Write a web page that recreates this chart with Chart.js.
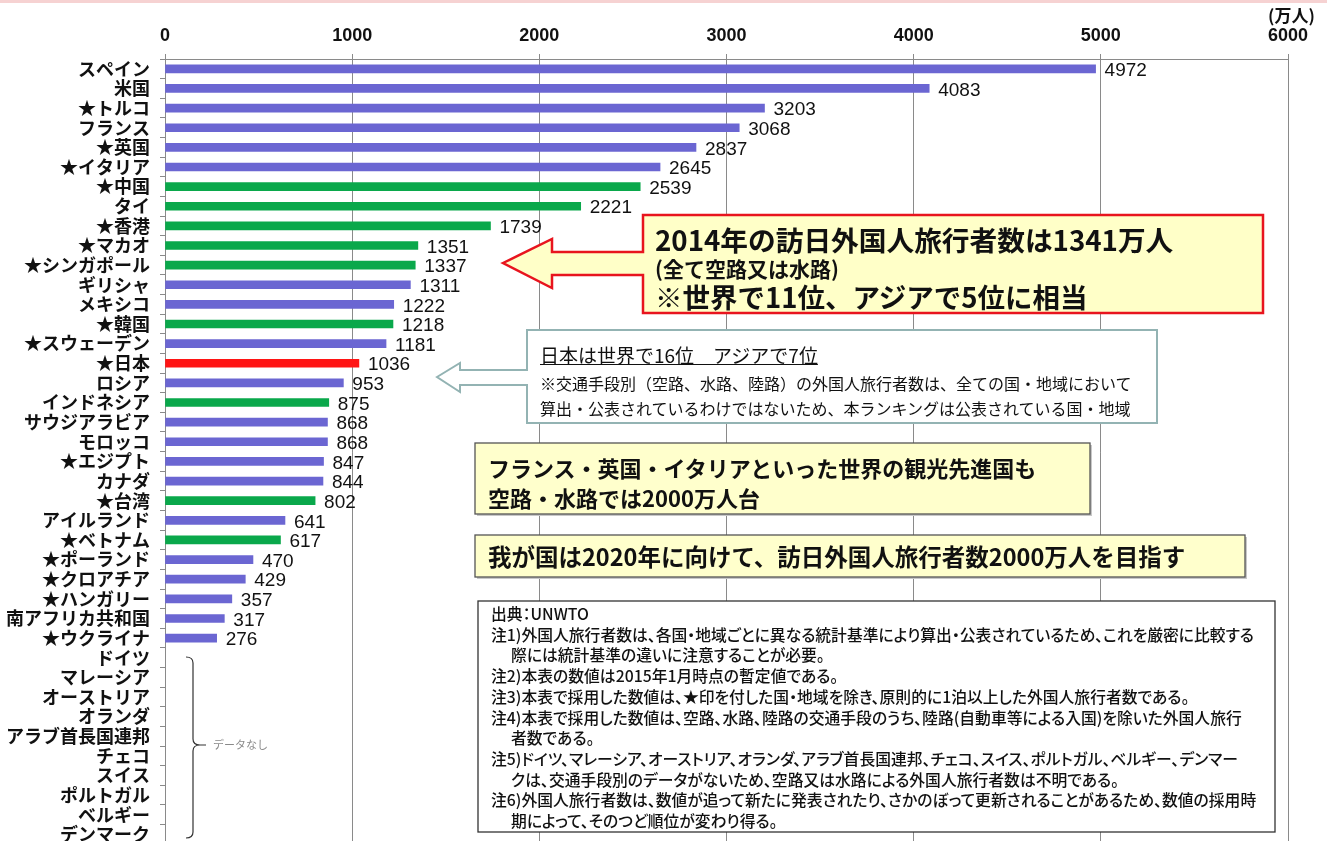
<!DOCTYPE html>
<html>
<head>
<meta charset="utf-8">
<script src="https://cdn.jsdelivr.net/npm/chart.js@4.4.0/dist/chart.umd.min.js"></script>
<style>
  html, body { margin: 0; padding: 0; background: #fff; overflow: hidden; }
  #wrap { position: relative; width: 1327px; height: 841px; overflow: hidden; }
  #topline { position: absolute; left: 0; top: 0; width: 1327px; height: 3px; background: #f6d2d2; }
  canvas { position: absolute; left: 0; top: 0; }
  svg { position: absolute; left: 0; top: 0; }
  .t { position: absolute; white-space: nowrap; font-family: "Noto Sans CJK JP", sans-serif; color: #111; }
  .p { font-feature-settings: "palt"; }
</style>
</head>
<body>
<div id="wrap">
  <div id="topline"></div>
  <canvas id="visitor_chart" width="1327" height="865"></canvas>
  <svg width="1327" height="841">
    <!-- 2014 box with arrow -->
    <polygon points="503,263 552,239 552,252 643,252 643,215 1263,215 1263,313 643,313 643,275 552,275 552,288"
             fill="#ffffc8" stroke="#e8141e" stroke-width="2.5" stroke-linejoin="miter"/>
    <!-- Japan rank box with arrow -->
    <polygon points="437,377 460,363 460,370 527,370 527,330 1157,330 1157,423 527,423 527,385 460,385 460,392"
             fill="#ffffff" stroke="#93b3b3" stroke-width="2"/>
    <rect x="477" y="445" width="615" height="71" fill="#c8c8c8"/>
    <rect x="475" y="443" width="615" height="71" fill="#ffffcc" stroke="#555" stroke-width="1.3"/>
    <rect x="477" y="537" width="770" height="42" fill="#c8c8c8"/>
    <rect x="475" y="535" width="770" height="42" fill="#ffffcc" stroke="#555" stroke-width="1.3"/>
    <rect x="478" y="601" width="797" height="231" fill="#ffffff" stroke="#333" stroke-width="1.3"/>
    <!-- no-data bracket -->
    <path d="M186,657 Q193,657 193,663 L193,739 Q193,745 200,745 L206,745 M200,745 Q193,745 193,751 L193,832 Q193,838 186,838"
          fill="none" stroke="#333" stroke-width="1.2"/>
  </svg>
</div>
<script>
// 国・地域 (★印は1泊以上の旅行者数ではない国・地域)
const countries = [
    'スペイン', '米国', '★トルコ', 'フランス', '★英国', '★イタリア', '★中国', 'タイ',
    '★香港', '★マカオ', '★シンガポール', 'ギリシャ', 'メキシコ', '★韓国', '★スウェーデン',
    '★日本', 'ロシア', 'インドネシア', 'サウジアラビア', 'モロッコ', '★エジプト', 'カナダ',
    '★台湾', 'アイルランド', '★ベトナム', '★ポーランド', '★クロアチア', '★ハンガリー',
    '南アフリカ共和国', '★ウクライナ',
    'ドイツ', 'マレーシア', 'オーストリア', 'オランダ', 'アラブ首長国連邦', 'チェコ',
    'スイス', 'ポルトガル', 'ベルギー', 'デンマーク'
];

// 空路・水路による外国人旅行者数 (万人), null = データなし
const visitors = [
    4972, 4083, 3203, 3068, 2837, 2645, 2539, 2221,
    1739, 1351, 1337, 1311, 1222, 1218, 1181,
    1036, 953, 875, 868, 868, 847, 844,
    802, 641, 617, 470, 429, 357,
    317, 276,
    null, null, null, null, null, null,
    null, null, null, null
];

// 地域区分 (色分け用)
const regions = [
    'world', 'world', 'world', 'world', 'world', 'world', 'asia', 'asia',
    'asia', 'asia', 'asia', 'world', 'world', 'asia', 'world',
    'japan', 'world', 'asia', 'world', 'world', 'world', 'world',
    'asia', 'world', 'asia', 'world', 'world', 'world',
    'world', 'world',
    'world', 'world', 'world', 'world', 'world', 'world',
    'world', 'world', 'world', 'world'
];

const xTicks = [0, 1000, 2000, 3000, 4000, 5000, 6000];

const regionColors = { world: '#6b66d2', asia: '#0aa84b', japan: '#ff1414' };

// 棒の右に数値を描く
const valueLabels = {
    id: 'valueLabels',
    afterDatasetsDraw(chart) {
        const ctx = chart.ctx;
        const meta = chart.getDatasetMeta(0);
        ctx.save();
        ctx.font = '19px "Liberation Sans", Arial, sans-serif';
        ctx.fillStyle = '#111';
        ctx.textBaseline = 'middle';
        ctx.textAlign = 'left';
        meta.data.forEach((bar, i) => {
            const v = visitors[i];
            if (v === null) return;
            ctx.fillText(String(v), bar.x + 9, bar.y + 2);
        });
        ctx.restore();
    }
};

new Chart(document.getElementById('visitor_chart'), {
    type: 'bar',
    data: {
        labels: countries,
        datasets: [{
            data: visitors,
            backgroundColor: regions.map(r => regionColors[r]),
            barThickness: 8
        }]
    },
    options: {
        indexAxis: 'y',
        responsive: false,
        animation: false,
        layout: { padding: { left: 0, right: 39, top: 0, bottom: 2 } },
        plugins: {
            legend: { display: false },
            tooltip: { enabled: false }
        },
        scales: {
            x: {
                position: 'top',
                min: 0,
                max: 6000,
                afterBuildTicks(scale) {
                    scale.ticks = xTicks.map(v => ({ value: v }));
                },
                afterFit(scale) { scale.height = 59; },
                grid: { color: '#8a8a8a', lineWidth: 1, tickLength: 5 },
                border: { color: '#8a8a8a' },
                ticks: {
                    color: '#111',
                    padding: 7,
                    callback: v => String(v),
                    font: { family: '"Liberation Sans", Arial, sans-serif', size: 18, weight: 'bold' }
                }
            },
            y: {
                afterFit(scale) { scale.width = 165; },
                grid: { drawOnChartArea: false, color: '#8a8a8a', tickLength: 5, offset: true },
                border: { color: '#8a8a8a' },
                ticks: {
                    color: '#111',
                    padding: 10,
                    autoSkip: false,
                    font: { family: '"Noto Sans CJK JP", sans-serif', size: 18, weight: 'bold' }
                }
            }
        }
    },
    plugins: [valueLabels]
});

// 注記テキスト
const wrap = document.getElementById('wrap');
function note(x, yc, lh, str, style, cls) {
    const d = document.createElement('div');
    d.className = 't' + (cls ? ' ' + cls : '');
    d.style.left = x + 'px';
    d.style.top = (yc - lh / 2) + 'px';
    d.style.lineHeight = lh + 'px';
    d.style.height = lh + 'px';
    Object.assign(d.style, style || {});
    d.textContent = str;
    wrap.appendChild(d);
}

note(1268, 15, 20, '(万人)', { fontSize: '17px', fontWeight: 'bold' });
note(213, 744, 14, 'データなし', { fontSize: '11px', color: '#8a8a8a' });

note(655, 239, 32, '2014年の訪日外国人旅行者数は1341万人', { fontSize: '27.7px', fontWeight: 'bold' });
note(655, 268, 22, '(全て空路又は水路)', { fontSize: '21px', fontWeight: 'bold' });
note(655, 296, 32, '※世界で11位、アジアで5位に相当', { fontSize: '27.5px', fontWeight: 'bold' });

note(540, 355, 24, '日本は世界で16位　アジアで7位', { fontSize: '19px', textDecoration: 'underline' });
note(540, 383, 20, '※交通手段別（空路、水路、陸路）の外国人旅行者数は、全ての国・地域において', { fontSize: '16px' });
note(540, 408, 20, '算出・公表されているわけではないため、本ランキングは公表されている国・地域', { fontSize: '16px' });

note(488, 467, 28, 'フランス・英国・イタリアといった世界の観光先進国も', { fontSize: '22px', fontWeight: 'bold' });
note(488, 497, 28, '空路・水路では2000万人台', { fontSize: '22px', fontWeight: 'bold' });

note(488, 556, 28, '我が国は2020年に向けて、訪日外国人旅行者数2000万人を目指す', { fontSize: '23.5px', fontWeight: 'bold' });

const notes = [
    [491, '出典：UNWTO'],
    [491, '注1)外国人旅行者数は、各国・地域ごとに異なる統計基準により算出・公表されているため、これを厳密に比較する'],
    [511, '際には統計基準の違いに注意することが必要。'],
    [491, '注2)本表の数値は2015年1月時点の暫定値である。'],
    [491, '注3)本表で採用した数値は、★印を付した国・地域を除き、原則的に1泊以上した外国人旅行者数である。'],
    [491, '注4)本表で採用した数値は、空路、水路、陸路の交通手段のうち、陸路(自動車等による入国)を除いた外国人旅行'],
    [511, '者数である。'],
    [491, '注5)ドイツ、マレーシア、オーストリア、オランダ、アラブ首長国連邦、チェコ、スイス、ポルトガル、ベルギー、デンマー'],
    [511, 'クは、交通手段別のデータがないため、空路又は水路による外国人旅行者数は不明である。'],
    [491, '注6)外国人旅行者数は、数値が追って新たに発表されたり、さかのぼって更新されることがあるため、数値の採用時'],
    [511, '期によって、そのつど順位が変わり得る。']
];
notes.forEach((n, i) => {
    note(n[0], 614 + i * 20.7, 20, n[1], { fontSize: '15.8px', fontWeight: '500' }, 'p');
});
</script>
</body>
</html>
